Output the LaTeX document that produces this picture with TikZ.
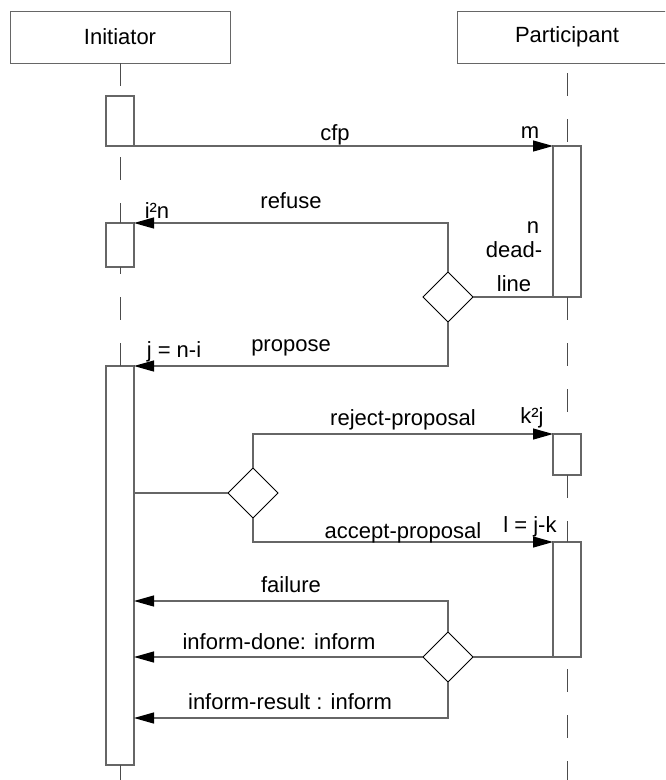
\documentclass[tikz,border=0pt]{standalone}
\usepackage{fontspec}
\setmainfont{Liberation Sans}
\usetikzlibrary{shapes.geometric,arrows.meta}
\begin{document}
\begin{tikzpicture}[x=1pt,y=-1pt,
  every node/.style={font=\fontsize{22}{26}\selectfont, inner sep=0pt, outer sep=0pt},
  header/.style={draw=black!60, line width=1pt, minimum width=220pt, minimum height=52pt},
  act/.style={draw=black!60, line width=1.2pt, minimum width=28pt, fill=white},
  choice/.style={draw=black, line width=0.8pt, shape=diamond, minimum width=50pt, minimum height=50pt, aspect=1, fill=white},
  msg/.style={draw=black!60, line width=1.2pt, -{Triangle[length=20pt,width=11pt,color=black,fill=black]}},
  link/.style={draw=black!60, line width=1.2pt},
  life/.style={draw=black!70, line width=1pt, dash pattern=on 23pt off 23pt},
  lbl/.style={text=black}]
\useasboundingbox (0,0) rectangle (665,780);
\clip (0,0) rectangle (665,780);

% headers
\node[header] (hI) at (120,37) {Initiator};
\node[header] (hP) at (567,37) {Participant};

% activation boxes
\node[act, minimum height=50pt]  (a1) at (120,121) {};
\node[act, minimum height=44pt]  (a2) at (120,245) {};
\node[act, minimum height=399pt] (a3) at (120,565.5) {};
\node[act, minimum height=151pt] (p1) at (567,221.5) {};
\node[act, minimum height=41pt]  (p2) at (567,454.5) {};
\node[act, minimum height=115pt] (p3) at (567,599.5) {};

% choice diamonds
\node[choice] (d1) at (448,297) {};
\node[choice] (d2) at (253,493) {};
\node[choice] (d3) at (448,657) {};

% helper coordinates
\coordinate (endI) at (120,780);
\coordinate (endP) at (567,780);
\coordinate (cF) at (448,601);
\coordinate (cR) at (448,718);

% lifelines
\draw[life] (hI.south) -- (a1.north);
\draw[life, dash phase=35pt] (a1.south) -- (a2.north);
\draw[life, dash phase=16pt] (a2.south) -- (a3.north);
\draw[life] (a3.south) -- (endI);
\draw[life, dash phase=36pt] (hP.south) -- (p1.north);
\draw[life] (p1.south) -- (p2.north);
\draw[life] (p2.south) -- (p3.north);
\draw[life, dash phase=34pt] (p3.south) -- (endP);

% messages
\draw[msg] (a1.south west) -- (p1.north west);
\draw[msg] (d1.north) |- (a2.north east);
\draw[msg] (d1.south) |- (a3.north east);
\draw[link] (d1.east) -- (p1.south west);
\draw[link] (a3.east |- d2) -- (d2.west);
\draw[msg] (d2.north) |- (p2.north west);
\draw[msg] (d2.south) |- (p3.north west);
\draw[link] (p3.south west) -- (d3.east);
\draw[msg] (d3.north) -- (cF) -- (a3.east |- cF);
\draw[msg] (d3.west) -- (a3.east |- d3);
\draw[msg] (d3.south) -- (cR) -- (a3.east |- cR);

% labels
\node[lbl] (tcfp) at (335,135) {cfp};
\node[lbl] (tm) at (530,133) {m};
\node[lbl] (tref) at (291,201) {refuse};
\node[lbl] (tin) at (157,211) {i²n};
\node[lbl] (tn) at (533,228) {n};
\node[lbl] (tdead) at (514,250) {dead-};
\node[lbl] (tline) at (514,284) {line};
\node[lbl] (tprop) at (291,348) {propose};
\node[lbl] (tj) at (174,352) {j = n-i};
\node[lbl] (trej) at (403,420) {reject-proposal};
\node[lbl] (tk) at (532,418) {k²j};
\node[lbl] (tacc) at (403,533) {accept-proposal};
\node[lbl] (tl) at (530,527) {l = j-k};
\node[lbl] (tfail) at (291,585) {failure};
\node[lbl] (tdone) at (279,642) {inform-done: inform};
\node[lbl] (tres) at (290,702) {inform-result : inform};
\end{tikzpicture}
\end{document}
